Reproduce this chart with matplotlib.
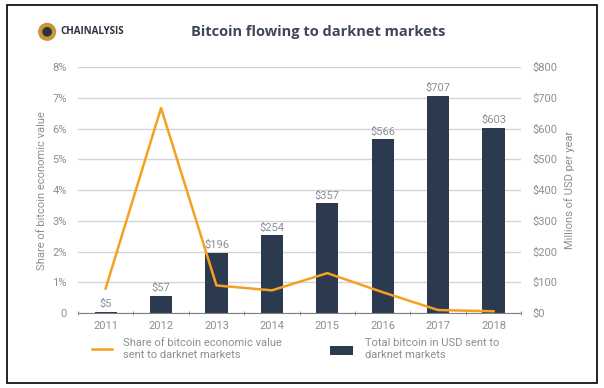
import matplotlib
matplotlib.use('Agg')
import matplotlib.pyplot as plt
from matplotlib.patches import Rectangle, Ellipse
from matplotlib.lines import Line2D

# data
years = ['2011', '2012', '2013', '2014', '2015', '2016', '2017', '2018']
usd_millions = [5, 57, 196, 254, 357, 566, 707, 603]
share_pct = [0.8, 6.67, 0.9, 0.74, 1.3, 0.68, 0.1, 0.06]

pct_ticks = [0, 1, 2, 3, 4, 5, 6, 7, 8]
pct_labels = ['0', '1%', '2%', '3%', '4%', '5%', '6%', '7%', '8%']
usd_ticks = [0, 100, 200, 300, 400, 500, 600, 700, 800]
usd_labels = ['$0', '$100', '$200', '$300', '$400', '$500', '$600', '$700', '$800']

BAR = '#2c3a4f'
ORANGE = '#f5a021'
GREY = '#8a8f96'
GRID = '#d2d4d7'

plt.rcParams['font.family'] = ['Roboto', 'DejaVu Sans']

fig = plt.figure(figsize=(6.04, 3.88), dpi=100)
asp = 604 / 388

# outer frame
fig.patches.append(Rectangle((0.012, 0.013), 0.976, 0.975, transform=fig.transFigure,
                             fill=False, edgecolor='black', linewidth=1.2))

ax = fig.add_axes([0.129, 0.193, 0.734, 0.634])
ax2 = ax.twinx()

x = list(range(len(years)))
ax2.bar(x, usd_millions, width=0.4, color=BAR, zorder=2)
for xi, v in zip(x, usd_millions):
    ax2.text(xi, v + 8, '${}'.format(v), ha='center', va='bottom', fontsize=8, color=GREY)

ax.plot(x, share_pct, color=ORANGE, linewidth=1.8, zorder=5)

# layering: line over bars
ax.set_zorder(ax2.get_zorder() + 1)
ax.patch.set_visible(False)

ax.set_xlim(-0.5, 7.5)
ax.set_ylim(0, 8)
ax2.set_ylim(0, 800)

ax.set_yticks(pct_ticks)
ax.set_yticklabels(pct_labels)
ax2.set_yticks(usd_ticks)
ax2.set_yticklabels(usd_labels)
ax.set_xticks(x)
ax.set_xticklabels(years)
ax.set_xticks([i + 0.5 for i in range(-1, len(years))], minor=True)

for a in (ax, ax2):
    for s in a.spines.values():
        s.set_visible(False)
ax.spines['bottom'].set_visible(True)
ax.spines['bottom'].set_color('#7d8187')
ax.spines['bottom'].set_linewidth(0.8)

ax2.grid(axis='y', color=GRID, linewidth=1.0, zorder=0)
ax2.set_axisbelow(True)

ax.tick_params(axis='x', which='major', length=0, labelsize=8, colors=GREY, pad=6)
ax.tick_params(axis='x', which='minor', length=3, color='#7d8187', direction='inout')
ax.tick_params(axis='y', length=0, labelsize=8, colors=GREY, pad=8)
ax2.tick_params(axis='y', length=0, labelsize=8, colors=GREY, pad=8)

ax.set_ylabel('Share of bitcoin economic value', fontsize=8, color=GREY, labelpad=4)
ax2.set_ylabel('Millions of USD per year', fontsize=8, color=GREY, labelpad=5)

# title and logo
fig.text(0.316, 0.918, 'Bitcoin flowing to darknet markets', fontsize=10.5, fontweight='bold',
         color='#3d4757', family=['Open Sans', 'DejaVu Sans'], va='center')
fig.text(0.100, 0.918, 'CHAINALYSIS', fontsize=7, fontweight='bold', color='#2b3340',
         family=['Open Sans', 'DejaVu Sans'], va='center')
fig.patches.append(Ellipse((0.078, 0.918), 0.030, 0.030 * asp, transform=fig.transFigure,
                           facecolor='#c8963a', edgecolor='none'))
fig.patches.append(Ellipse((0.078, 0.918), 0.016, 0.016 * asp, transform=fig.transFigure,
                           facecolor='#2b3340', edgecolor='none'))

# legend
fig.add_artist(Line2D([0.153, 0.186], [0.100, 0.100], transform=fig.transFigure,
                      color=ORANGE, linewidth=1.8))
fig.text(0.203, 0.100, 'Share of bitcoin economic value\nsent to darknet markets',
         fontsize=8, color=GREY, va='center', linespacing=1.2)
fig.patches.append(Rectangle((0.546, 0.084), 0.038, 0.024, transform=fig.transFigure,
                             facecolor=BAR, edgecolor='none'))
fig.text(0.605, 0.100, 'Total bitcoin in USD sent to\ndarknet markets',
         fontsize=8, color=GREY, va='center', linespacing=1.2)

fig.savefig('out.png', dpi=100)
